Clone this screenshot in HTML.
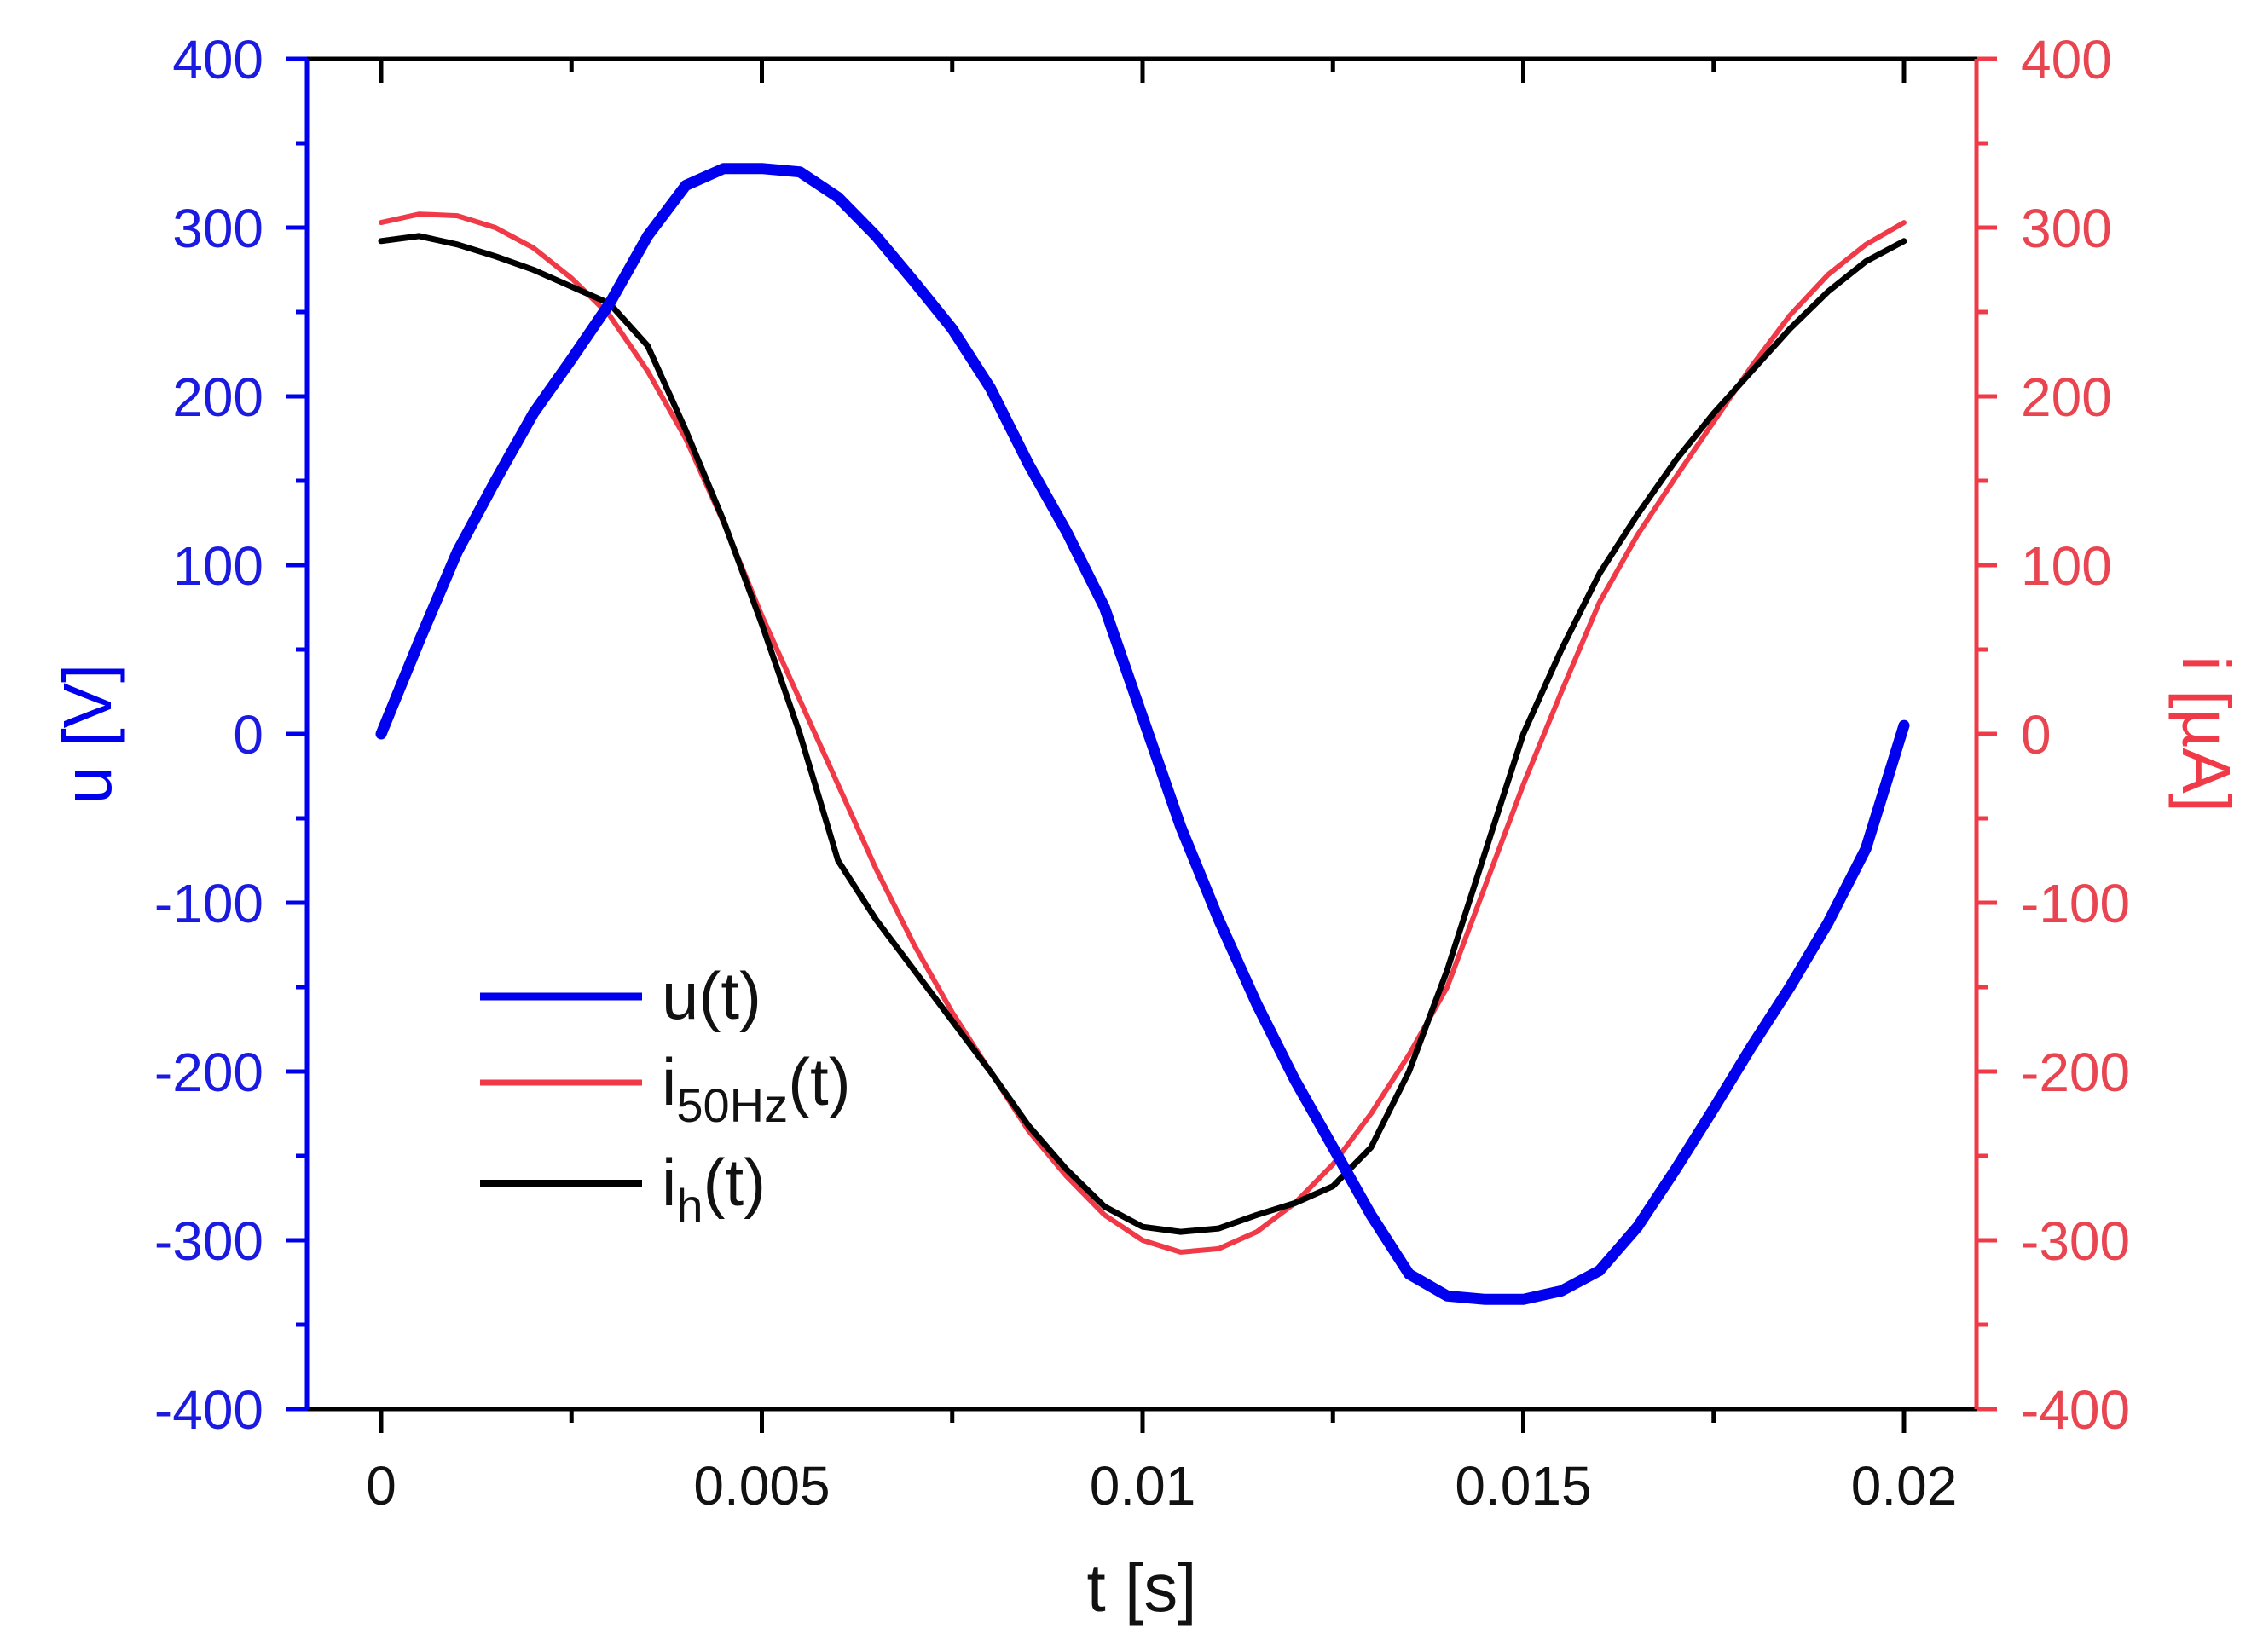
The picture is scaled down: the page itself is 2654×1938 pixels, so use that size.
<!DOCTYPE html>
<html><head><meta charset="utf-8"><style>
html,body{margin:0;padding:0;background:#fff;}
svg{display:block;font-family:"Liberation Sans",Arial,sans-serif;}
</style></head><body>
<svg id="chart" width="2654" height="1938" viewBox="0 0 2654 1938" xmlns="http://www.w3.org/2000/svg">
<g id="axes"></g>
<g id="series"></g>
<g id="legend">
  <line x1="563" y1="1169" x2="753" y2="1169" stroke="#0000ee" stroke-width="9"/>
  <text x="776" y="1195" font-size="78" fill="#111">u(t)</text>
  <line x1="563" y1="1270" x2="753" y2="1270" stroke="#f03a48" stroke-width="7"/>
  <text x="776" y="1296" font-size="78" fill="#111">i<tspan font-size="56" dy="20">50Hz</tspan><tspan dy="-20">(t)</tspan></text>
  <line x1="563" y1="1388" x2="753" y2="1388" stroke="#000" stroke-width="8"/>
  <text x="776" y="1414" font-size="78" fill="#111">i<tspan font-size="56" dy="20">h</tspan><tspan dy="-20">(t)</tspan></text>
</g>
</svg>
<script>
const tValues = [0,0.0005,0.001,0.0015,0.002,0.0025,0.003,0.0035,0.004,0.0045,0.005,0.0055,0.006,0.0065,0.007,0.0075,0.008,0.0085,0.009,0.0095,0.01,0.0105,0.011,0.0115,0.012,0.0125,0.013,0.0135,0.014,0.0145,0.015,0.0155,0.016,0.0165,0.017,0.0175,0.018,0.0185,0.019,0.0195,0.02];
const uValues = [0,55,108,150,190,222,255,295,325,335,335,333,318,295,268,240,205,160,120,75,10,-55,-110,-160,-205,-245,-285,-320,-333,-335,-335,-330,-318,-292,-258,-222,-185,-150,-112,-68,5];
const i50Values = [303,308,307,300,288,270,248,215,175,125,70,20,-30,-80,-125,-165,-200,-235,-262,-285,-300,-307,-305,-295,-278,-255,-225,-190,-150,-90,-30,25,78,118,152,185,218,248,272,290,303];
const ihValues = [292,295,290,283,275,265,255,230,180,126,65,0,-75,-110,-140,-170,-200,-232,-258,-280,-292,-295,-293,-285,-278,-268,-245,-200,-140,-70,0,50,95,130,162,190,215,240,262,280,292];
const xTicks = [0,0.005,0.01,0.015,0.02];
const xTickLabels = ["0","0.005","0.01","0.015","0.02"];
const yTicks = [400,300,200,100,0,-100,-200,-300,-400];
const yTickLabels = ["400","300","200","100","0","-100","-200","-300","-400"];

const X0=360, X1=2318, Y0=69, Y1=1653;
const xScale = t => 447 + t/0.005*446.5;
const yScale = v => Y0 + (400 - v)/800*(Y1-Y0);
const NS='http://www.w3.org/2000/svg';
const axes=document.getElementById('axes'), series=document.getElementById('series');
function mk(tag, attrs, parent){const e=document.createElementNS(NS,tag);for(const k in attrs)e.setAttribute(k,attrs[k]);parent.appendChild(e);return e;}

let e;
e=mk('line',{x1:X0,y1:Y0,x2:X1,y2:Y0,stroke:'#000','stroke-width':5},axes);


e=mk('line',{x1:X0,y1:Y1,x2:X1,y2:Y1,stroke:'#000','stroke-width':5},axes);


e=mk('line',{x1:X0,y1:Y0,x2:X0,y2:Y1,stroke:'#0000ee','stroke-width':5},axes);


e=mk('line',{x1:X1,y1:Y0,x2:X1,y2:Y1,stroke:'#f03a48','stroke-width':5},axes);



xTicks.forEach((t,i)=>{
  const x=xScale(t);
  let a=mk('line',{x1:x,y1:Y1,x2:x,y2:Y1+28,stroke:'#000','stroke-width':5},axes);
  
  
  let b=mk('line',{x1:x,y1:Y0,x2:x,y2:Y0+28,stroke:'#000','stroke-width':5},axes);
  
  
  let l=mk('text',{x:x,y:1765,'font-size':64,'text-anchor':'middle',fill:'#111'},axes);
  l.textContent=xTickLabels[i];
  
  
  if(i<xTicks.length-1){
    const xm=xScale(t+0.0025);
    let m=mk('line',{x1:xm,y1:Y1,x2:xm,y2:Y1+16,stroke:'#000','stroke-width':5},axes);
    
    
    let m2=mk('line',{x1:xm,y1:Y0,x2:xm,y2:Y0+16,stroke:'#000','stroke-width':5},axes);
    
    
  }
});
yTicks.forEach((v,i)=>{
  const y=yScale(v);
  let a=mk('line',{x1:X0-24,y1:y,x2:X0,y2:y,stroke:'#0000ee','stroke-width':5},axes);
  
  
  let b=mk('line',{x1:X1,y1:y,x2:X1+24,y2:y,stroke:'#f03a48','stroke-width':5},axes);
  
  
  let l=mk('text',{x:309,y:y+23,'font-size':64,'text-anchor':'end',fill:'#1a1ae0'},axes);
  l.textContent=yTickLabels[i];
  
  
  let r=mk('text',{x:2370,y:y+23,'font-size':64,'text-anchor':'start',fill:'#e84550'},axes);
  r.textContent=yTickLabels[i];
  
  
  if(i<yTicks.length-1){
    const ym=yScale(v-50);
    let m=mk('line',{x1:X0-13,y1:ym,x2:X0,y2:ym,stroke:'#0000ee','stroke-width':5},axes);
    
    
    let m2=mk('line',{x1:X1,y1:ym,x2:X1+13,y2:ym,stroke:'#f03a48','stroke-width':5},axes);
    
    
  }
});
let tx=mk('text',{x:1339,y:1890,'font-size':80,'text-anchor':'middle',fill:'#111'},axes);
tx.textContent='t [s]';


let ty=mk('text',{x:0,y:0,'font-size':80,'text-anchor':'middle',fill:'#0000ee',transform:'translate(130,861) rotate(-90)'},axes);
ty.textContent='u [V]';


let tr=mk('text',{x:0,y:0,'font-size':80,'text-anchor':'middle',fill:'#f03a48',transform:'translate(2560,861) rotate(90)'},axes);
tr.textContent='i [µA]';



function path(vals,color,w,name){
  const d=vals.map((v,i)=>(i?'L':'M')+xScale(tValues[i]).toFixed(1)+','+yScale(v).toFixed(1)).join(' ');
  const p=mk('path',{d:d,fill:'none',stroke:color,'stroke-width':w,'stroke-linejoin':'round','stroke-linecap':'round'},series);
  
  
}
path(i50Values,'#f03a48',6,'i50hz-line');
path(ihValues,'#000',7,'ih-line');
path(uValues,'#0000ee',13,'u-line');
</script>
</body></html>
